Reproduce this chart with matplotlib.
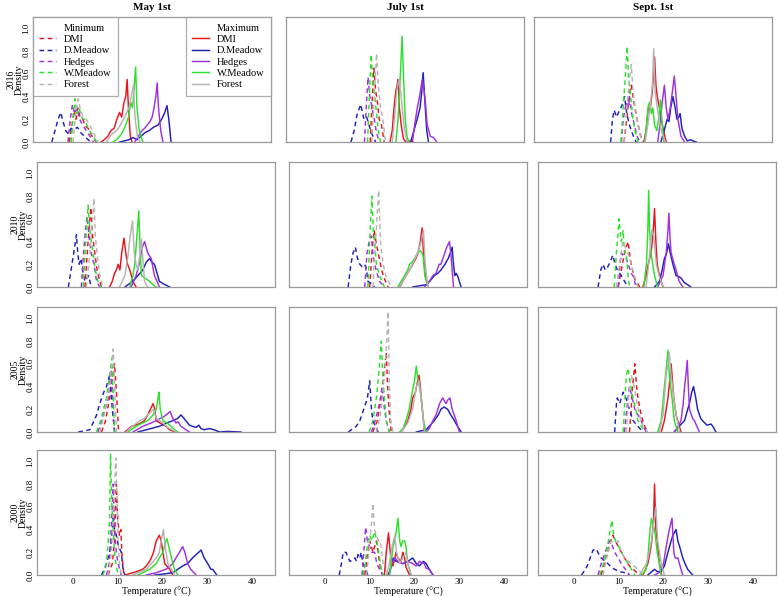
import matplotlib.pyplot as plt
from matplotlib.lines import Line2D

# Fuente tipo Times, como en la figura original
plt.rcParams["font.family"] = ["Liberation Serif", "DejaVu Serif"]

# ---- Datos ----#
sites = ["DMI", "D.Meadow", "Hedges", "W.Meadow", "Forest"]
years = ["2016", "2010", "2005", "2000"]
dates = ["May 1st", "July 1st", "Sept. 1st"]
colors = {"DMI": "#e8141e", "D.Meadow": "#2020b8", "Hedges": "#a030e0",
          "W.Meadow": "#2ee02e", "Forest": "#b4b4b4"}

# Curvas de densidad: (temperatura, densidad)
may_2016_min = {
    "DMI": [(-0.8, 0), (-0.2, 0.15), (0.3, 0.28), (0.7, 0.2), (1.1, 0.3), (1.6, 0.22), (2.2, 0.2), (2.8, 0.14), (3.4, 0.12), (4.0, 0.07), (4.6, 0.03), (5.2, 0)],
    "D.Meadow": [(-4.7, 0), (-4.0, 0.1), (-3.3, 0.2), (-2.7, 0.26), (-2.2, 0.18), (-1.6, 0.1), (-1.0, 0.07), (-0.4, 0.12), (0.3, 0.11), (1.0, 0.13), (1.8, 0.08), (2.6, 0.05), (3.4, 0.02), (4.1, 0)],
    "Hedges": [(-1.1, 0), (-0.6, 0.2), (-0.1, 0.33), (0.4, 0.25), (0.9, 0.3), (1.5, 0.2), (2.2, 0.15), (3.0, 0.1), (3.8, 0.05), (4.6, 0)],
    "W.Meadow": [(-0.4, 0), (0.1, 0.25), (0.5, 0.38), (0.9, 0.25), (1.4, 0.3), (1.9, 0.22), (2.5, 0.2), (3.1, 0.15), (3.7, 0.1), (4.4, 0.06), (5.3, 0)],
    "Forest": [(0.0, 0), (0.6, 0.25), (1.2, 0.38), (1.7, 0.28), (2.3, 0.22), (3.0, 0.2), (3.7, 0.15), (4.4, 0.1), (5.0, 0.05), (5.6, 0)],
}
may_2016_max = {
    "DMI": [(6.3, 0), (7.0, 0.02), (7.8, 0.05), (8.5, 0.1), (9.2, 0.12), (9.8, 0.2), (10.4, 0.26), (10.9, 0.22), (11.4, 0.35), (11.8, 0.4), (12.1, 0.55), (12.4, 0.3), (12.8, 0.05), (13.2, 0)],
    "D.Meadow": [(10.4, 0), (11.5, 0.01), (12.5, 0.02), (13.4, 0.04), (14.3, 0.02), (15.2, 0.05), (16.0, 0.08), (17.0, 0.1), (18.0, 0.13), (19.0, 0.15), (19.8, 0.2), (20.4, 0.25), (21.0, 0.32), (21.4, 0.2), (21.9, 0)],
    "Hedges": [(13.8, 0), (14.6, 0.05), (15.4, 0.1), (16.0, 0.12), (16.6, 0.15), (17.2, 0.18), (17.7, 0.22), (18.1, 0.3), (18.5, 0.4), (18.8, 0.52), (19.1, 0.3), (19.6, 0.1), (20.1, 0)],
    "W.Meadow": [(9.0, 0), (10.0, 0.03), (11.0, 0.08), (11.8, 0.15), (12.4, 0.22), (12.9, 0.35), (13.3, 0.3), (13.7, 0.5), (14.0, 0.66), (14.3, 0.3), (14.8, 0.1), (15.6, 0)],
    "Forest": [(7.5, 0), (8.3, 0.05), (9.0, 0.08), (9.8, 0.1), (10.6, 0.15), (11.3, 0.2), (11.9, 0.25), (12.5, 0.3), (13.0, 0.4), (13.5, 0.5), (13.9, 0.2), (14.4, 0.05), (15.0, 0)],
}
jul_2016_min = {
    "DMI": [(9.9, 0), (10.3, 0.35), (10.7, 0.65), (11.1, 0.45), (11.5, 0.35), (11.9, 0.2), (12.4, 0.15), (13.0, 0)],
    "D.Meadow": [(5.6, 0), (6.3, 0.1), (7.0, 0.25), (7.8, 0.33), (8.2, 0.25), (8.5, 0.2), (9.1, 0.22), (9.6, 0.15), (10.2, 0.08), (10.7, 0.03), (11.1, 0)],
    "Hedges": [(8.6, 0), (9.0, 0.3), (9.4, 0.57), (9.8, 0.4), (10.3, 0.3), (10.8, 0.2), (11.3, 0.08), (11.9, 0)],
    "W.Meadow": [(9.3, 0), (9.7, 0.4), (10.1, 0.77), (10.5, 0.5), (10.9, 0.4), (11.3, 0.25), (11.7, 0.1), (12.2, 0)],
    "Forest": [(10.2, 0), (10.8, 0.4), (11.3, 0.78), (11.7, 0.5), (12.2, 0.3), (12.7, 0.2), (13.3, 0)],
}
jul_2016_max = {
    "DMI": [(14.3, 0), (14.8, 0.1), (15.2, 0.3), (15.6, 0.45), (15.9, 0.5), (16.1, 0.55), (16.4, 0.3), (16.8, 0.15), (17.3, 0.03), (17.8, 0), (18.5, 0.01), (19.5, 0)],
    "D.Meadow": [(18.9, 0), (19.5, 0.08), (20.0, 0.15), (20.5, 0.22), (21.0, 0.3), (21.4, 0.45), (21.7, 0.61), (22.1, 0.35), (22.5, 0.1), (22.9, 0)],
    "Hedges": [(19.3, 0), (19.8, 0.15), (20.4, 0.3), (20.9, 0.4), (21.5, 0.55), (21.9, 0.45), (22.2, 0.35), (22.6, 0.15), (23.3, 0.05), (24.0, 0.04), (24.7, 0)],
    "W.Meadow": [(15.6, 0), (16.1, 0.2), (16.5, 0.5), (17.0, 0.93), (17.3, 0.6), (17.7, 0.2), (18.1, 0.05), (18.5, 0)],
    "Forest": [(14.8, 0), (15.3, 0.2), (15.8, 0.45), (16.3, 0.55), (16.8, 0.4), (17.4, 0.15), (18.1, 0)],
}
sep_2016_min = {
    "DMI": [(11.2, 0), (11.8, 0.2), (12.3, 0.4), (12.8, 0.5), (13.2, 0.4), (13.6, 0.3), (14.1, 0.2), (14.7, 0.08), (15.4, 0)],
    "D.Meadow": [(8.2, 0), (8.6, 0.2), (9.0, 0.28), (9.5, 0.22), (10.2, 0.28), (10.7, 0.32), (11.3, 0.4), (11.8, 0.25), (12.4, 0.15), (13.0, 0.08), (13.5, 0.03), (13.9, 0)],
    "Hedges": [(10.6, 0), (11.0, 0.2), (11.7, 0.35), (12.2, 0.3), (12.4, 0.4), (12.9, 0.25), (13.5, 0.15), (14.1, 0.05), (14.7, 0)],
    "W.Meadow": [(10.5, 0), (11.0, 0.3), (11.5, 0.6), (11.9, 0.84), (12.2, 0.55), (12.4, 0.5), (12.8, 0.35), (13.2, 0.2), (13.6, 0.1), (14.3, 0)],
    "Forest": [(11.2, 0), (11.8, 0.3), (12.4, 0.55), (12.8, 0.68), (13.2, 0.45), (13.7, 0.3), (14.3, 0.15), (14.9, 0.05), (15.4, 0)],
}
sep_2016_max = {
    "DMI": [(15.6, 0), (16.1, 0.1), (16.6, 0.3), (17.0, 0.28), (17.5, 0.45), (18.0, 0.75), (18.3, 0.5), (18.6, 0.4), (19.1, 0.3), (19.5, 0.2), (20.0, 0.1), (20.6, 0)],
    "D.Meadow": [(19.4, 0), (20.0, 0.08), (20.8, 0.2), (21.2, 0.18), (21.6, 0.3), (22.1, 0.4), (22.6, 0.3), (23.0, 0.2), (23.4, 0.22), (23.7, 0.25), (24.1, 0.12), (24.7, 0.05), (25.3, 0.01), (26.1, 0.02), (26.5, 0.01), (27.3, 0)],
    "Hedges": [(18.7, 0), (19.2, 0.15), (19.7, 0.35), (20.2, 0.5), (20.6, 0.3), (21.0, 0.2), (21.5, 0.3), (22.0, 0.45), (22.4, 0.58), (22.8, 0.4), (23.2, 0.2), (23.9, 0.05), (24.7, 0)],
    "W.Meadow": [(15.8, 0), (16.2, 0.15), (16.6, 0.32), (16.9, 0.35), (17.3, 0.25), (17.6, 0.3), (18.0, 0.15), (18.5, 0.1), (18.9, 0.2), (19.3, 0.37), (19.7, 0.15), (20.1, 0)],
    "Forest": [(15.9, 0), (16.5, 0.15), (17.0, 0.3), (17.5, 0.5), (17.8, 0.82), (18.1, 0.45), (18.6, 0.3), (19.2, 0.15), (19.9, 0.05), (20.4, 0)],
}
may_2010_min = {
    "DMI": [(2.7, 0), (3.3, 0.35), (4.0, 0.7), (4.4, 0.45), (4.9, 0.3), (5.4, 0.15), (6.0, 0.05), (6.4, 0)],
    "D.Meadow": [(-1.0, 0), (-0.4, 0.15), (0.2, 0.3), (0.8, 0.46), (1.1, 0.3), (1.4, 0.2), (1.8, 0.25), (2.3, 0.12), (2.7, 0.05), (3.2, 0.08), (3.5, 0.1), (4.1, 0)],
    "Hedges": [(1.9, 0), (2.4, 0.3), (2.8, 0.5), (3.2, 0.62), (3.6, 0.45), (4.1, 0.3), (4.7, 0.2), (5.3, 0.05), (6.0, 0)],
    "W.Meadow": [(2.3, 0), (2.8, 0.35), (3.4, 0.72), (3.8, 0.5), (4.5, 0.3), (5.0, 0.15), (5.6, 0.05), (6.4, 0)],
    "Forest": [(3.0, 0), (3.8, 0.3), (4.4, 0.6), (4.7, 0.78), (5.0, 0.45), (5.4, 0.3), (6.0, 0.1), (6.7, 0)],
}
may_2010_max = {
    "DMI": [(8.2, 0), (8.8, 0.05), (9.3, 0.12), (9.7, 0.15), (10.1, 0.2), (10.5, 0.15), (10.9, 0.3), (11.4, 0.43), (11.8, 0.3), (12.2, 0.2), (12.7, 0.15), (13.2, 0.08), (13.4, 0.05), (14.1, 0)],
    "D.Meadow": [(11.6, 0), (13.4, 0.05), (14.5, 0.1), (15.6, 0.15), (16.4, 0.22), (17.1, 0.25), (17.6, 0.22), (18.2, 0.2), (18.8, 0.12), (19.3, 0.05), (20.1, 0.03), (21.6, 0)],
    "Hedges": [(13.0, 0), (14.1, 0.1), (14.8, 0.2), (15.5, 0.35), (16.0, 0.4), (16.7, 0.3), (17.5, 0.25), (18.2, 0.1), (18.8, 0.05), (19.3, 0)],
    "W.Meadow": [(12.7, 0), (13.4, 0.1), (13.8, 0.2), (14.1, 0.35), (14.4, 0.5), (14.7, 0.67), (15.0, 0.35), (15.3, 0.1), (16.4, 0.07), (17.1, 0.05), (17.9, 0.02), (18.6, 0)],
    "Forest": [(10.4, 0), (11.0, 0.05), (11.6, 0.1), (12.2, 0.25), (12.8, 0.45), (13.3, 0.58), (13.7, 0.3), (14.1, 0.2), (14.5, 0.15), (15.0, 0.3), (15.3, 0.42), (15.7, 0.2), (16.0, 0.05), (16.7, 0)],
}
jul_2010_min = {
    "DMI": [(10.0, 0), (10.5, 0.3), (11.0, 0.5), (11.4, 0.4), (11.9, 0.3), (12.4, 0.2), (13.0, 0.1), (14.1, 0)],
    "D.Meadow": [(5.2, 0), (5.8, 0.2), (6.3, 0.3), (6.8, 0.35), (7.3, 0.25), (7.8, 0.2), (8.3, 0.18), (8.9, 0.2), (9.3, 0.15), (9.6, 0.05), (10.4, 0.03), (11.1, 0)],
    "Hedges": [(8.9, 0), (9.4, 0.3), (9.9, 0.4), (10.4, 0.45), (10.7, 0.3), (11.1, 0.2), (11.8, 0.1), (12.2, 0.05), (13.3, 0)],
    "W.Meadow": [(9.6, 0), (10.1, 0.5), (10.5, 0.8), (10.8, 0.5), (11.1, 0.4), (11.5, 0.2), (12.2, 0.1), (13.3, 0)],
    "Forest": [(10.7, 0), (11.3, 0.4), (12.0, 0.85), (12.4, 0.4), (13.0, 0.2), (13.6, 0.1), (14.8, 0)],
}
jul_2010_max = {
    "DMI": [(16.7, 0), (17.4, 0.05), (18.1, 0.1), (18.9, 0.15), (19.6, 0.2), (20.3, 0.25), (20.8, 0.3), (21.3, 0.4), (21.7, 0.52), (22.0, 0.3), (22.4, 0.1), (23.0, 0)],
    "D.Meadow": [(19.6, 0), (21.0, 0.01), (22.6, 0.02), (23.6, 0.06), (24.4, 0.1), (25.2, 0.12), (25.9, 0.15), (26.8, 0.2), (27.5, 0.25), (28.0, 0.3), (28.4, 0.35), (28.7, 0.2), (29.0, 0.1), (29.3, 0.12), (29.6, 0.1), (30.4, 0)],
    "Hedges": [(22.2, 0), (23.0, 0.03), (24.1, 0.1), (24.8, 0.12), (25.5, 0.2), (25.9, 0.2), (26.6, 0.28), (27.2, 0.35), (27.8, 0.4), (28.1, 0.3), (28.4, 0.15), (28.7, 0)],
    "W.Meadow": [(16.3, 0), (17.0, 0.05), (17.8, 0.1), (18.5, 0.15), (18.9, 0.2), (19.5, 0.22), (20.0, 0.25), (20.7, 0.3), (21.3, 0.32), (21.9, 0.28), (22.3, 0.1), (23.0, 0)],
    "Forest": [(16.7, 0), (17.8, 0.08), (18.9, 0.15), (19.8, 0.22), (20.7, 0.3), (21.1, 0.35), (21.5, 0.4), (22.0, 0.5), (22.4, 0.2), (23.0, 0)],
}
sep_2010_min = {
    "DMI": [(9.9, 0), (10.6, 0.15), (11.3, 0.3), (12.1, 0.4), (12.4, 0.3), (12.8, 0.2), (13.5, 0.08), (13.9, 0.05), (14.7, 0)],
    "D.Meadow": [(5.4, 0), (6.0, 0.15), (6.5, 0.2), (7.0, 0.15), (7.6, 0.18), (8.1, 0.22), (8.7, 0.28), (9.2, 0.2), (9.7, 0.15), (10.6, 0.1), (11.3, 0.05), (12.1, 0)],
    "Hedges": [(9.9, 0), (10.3, 0.2), (10.6, 0.3), (11.0, 0.28), (11.7, 0.25), (12.3, 0.18), (12.8, 0.12), (13.2, 0.1), (13.9, 0)],
    "W.Meadow": [(9.0, 0), (9.5, 0.3), (10.1, 0.6), (10.4, 0.45), (10.6, 0.4), (11.0, 0.5), (11.3, 0.3), (11.7, 0.3), (12.1, 0.1), (12.4, 0)],
    "Forest": [(9.5, 0), (10.2, 0.2), (10.9, 0.4), (11.5, 0.35), (12.1, 0.3), (12.8, 0.2), (13.5, 0.1), (14.3, 0)],
}
sep_2010_max = {
    "DMI": [(15.4, 0), (16.1, 0.1), (16.6, 0.2), (17.2, 0.3), (17.5, 0.4), (17.8, 0.55), (18.0, 0.69), (18.3, 0.4), (18.6, 0.2), (19.1, 0.1), (19.5, 0.05), (19.9, 0)],
    "D.Meadow": [(18.0, 0), (19.1, 0.05), (19.7, 0.15), (20.2, 0.25), (20.7, 0.3), (21.1, 0.38), (21.5, 0.3), (22.1, 0.2), (22.8, 0.1), (23.5, 0.09), (23.9, 0.08), (24.6, 0.04), (25.4, 0.02), (26.1, 0)],
    "Hedges": [(18.7, 0), (19.3, 0.05), (19.9, 0.1), (20.6, 0.3), (21.0, 0.5), (21.2, 0.65), (21.5, 0.4), (21.7, 0.3), (22.4, 0.2), (22.8, 0.15), (23.5, 0.05), (24.3, 0)],
    "W.Meadow": [(15.6, 0), (15.9, 0.1), (16.2, 0.2), (16.5, 0.5), (16.7, 0.85), (16.9, 0.5), (17.2, 0.3), (17.6, 0.2), (18.0, 0.1), (18.7, 0)],
    "Forest": [(16.1, 0), (16.7, 0.2), (17.4, 0.5), (17.8, 0.45), (18.4, 0.2), (19.0, 0.1), (19.9, 0)],
}
may_2005_min = {
    "DMI": [(6.4, 0), (7.3, 0.1), (8.2, 0.3), (8.8, 0.45), (9.3, 0.6), (9.8, 0.3), (10.2, 0)],
    "D.Meadow": [(1.2, 0), (2.5, 0.01), (3.8, 0.02), (4.5, 0.08), (5.3, 0.15), (6.0, 0.25), (6.9, 0.35), (7.5, 0.4), (8.2, 0.5), (8.8, 0.2), (9.3, 0)],
    "Hedges": [(5.6, 0), (6.5, 0.1), (7.9, 0.3), (8.6, 0.55), (9.0, 0.2), (9.3, 0)],
    "W.Meadow": [(5.3, 0), (6.2, 0.1), (7.5, 0.3), (8.2, 0.5), (8.7, 0.65), (9.1, 0.2), (9.3, 0)],
    "Forest": [(6.0, 0), (7.0, 0.15), (8.2, 0.4), (9.0, 0.73), (9.4, 0.3), (9.7, 0)],
}
may_2005_max = {
    "DMI": [(11.6, 0), (12.5, 0.03), (13.1, 0.05), (14.0, 0.06), (15.2, 0.08), (16.0, 0.1), (16.7, 0.15), (17.3, 0.2), (17.9, 0.25), (18.3, 0.2), (18.6, 0.1), (19.4, 0.08), (20.8, 0.05), (21.6, 0.02), (22.7, 0)],
    "D.Meadow": [(14.5, 0), (16.4, 0.02), (19.3, 0.05), (21.0, 0.08), (22.3, 0.1), (23.4, 0.12), (24.1, 0.15), (24.8, 0.12), (26.0, 0.06), (26.7, 0.05), (27.5, 0.04), (28.1, 0.06), (28.6, 0.03), (29.3, 0.02), (30.4, 0.03), (31.5, 0.02), (32.7, 0), (34.5, 0.005), (37.5, 0)],
    "Hedges": [(13.4, 0), (15.6, 0.05), (17.5, 0.08), (18.6, 0.1), (19.5, 0.12), (20.1, 0.13), (20.8, 0.15), (21.7, 0.18), (22.3, 0.12), (23.0, 0.08), (23.5, 0.09), (24.1, 0.05), (26.0, 0)],
    "W.Meadow": [(12.3, 0), (13.0, 0.02), (14.1, 0.05), (15.6, 0.08), (16.7, 0.1), (17.9, 0.15), (18.6, 0.2), (19.0, 0.3), (19.2, 0.35), (19.5, 0.2), (20.1, 0.1), (21.0, 0.08), (21.9, 0.05), (22.7, 0.02), (23.4, 0)],
    "Forest": [(11.9, 0), (13.0, 0.04), (14.9, 0.1), (16.0, 0.12), (16.7, 0.15), (17.5, 0.18), (18.0, 0.2), (18.6, 0.12), (19.3, 0.1), (20.1, 0.08), (21.2, 0.04), (23.0, 0)],
}
jul_2005_min = {
    "DMI": [(10.7, 0), (11.7, 0.1), (12.6, 0.3), (13.0, 0.45), (13.7, 0.7), (14.0, 0.4), (14.3, 0.2), (14.8, 0)],
    "D.Meadow": [(5.2, 0), (6.3, 0.03), (7.0, 0.05), (7.8, 0.1), (8.5, 0.18), (9.1, 0.25), (9.5, 0.3), (10.0, 0.45), (10.4, 0.2), (10.7, 0.1), (11.9, 0)],
    "Hedges": [(10.4, 0), (11.2, 0.1), (11.9, 0.2), (12.4, 0.3), (12.8, 0.4), (13.3, 0.2), (13.7, 0.1), (14.4, 0)],
    "W.Meadow": [(9.9, 0), (10.7, 0.1), (11.5, 0.3), (12.0, 0.5), (12.6, 0.8), (12.9, 0.5), (13.3, 0.3), (13.7, 0.1), (14.4, 0)],
    "Forest": [(11.5, 0), (12.4, 0.15), (13.3, 0.5), (13.8, 0.8), (14.1, 1.06), (14.4, 0.4), (14.7, 0.1), (15.2, 0)],
}
jul_2005_max = {
    "DMI": [(17.0, 0), (17.6, 0.03), (18.5, 0.1), (19.2, 0.2), (19.6, 0.3), (20.2, 0.35), (20.7, 0.45), (21.0, 0.5), (21.3, 0.4), (21.5, 0.3), (22.0, 0.1), (22.2, 0)],
    "D.Meadow": [(20.4, 0), (22.6, 0.02), (24.4, 0.1), (25.3, 0.15), (25.9, 0.2), (26.6, 0.22), (27.4, 0.2), (28.1, 0.15), (28.9, 0.1), (29.6, 0.05), (30.4, 0)],
    "Hedges": [(22.6, 0), (23.3, 0.03), (24.1, 0.1), (24.8, 0.15), (25.6, 0.25), (26.3, 0.3), (27.0, 0.25), (27.4, 0.28), (27.9, 0.3), (28.4, 0.2), (29.3, 0.1), (30.0, 0)],
    "W.Meadow": [(16.7, 0), (17.4, 0.03), (18.1, 0.1), (18.8, 0.2), (19.5, 0.35), (20.0, 0.45), (20.4, 0.58), (20.8, 0.45), (21.1, 0.4), (21.5, 0.3), (22.0, 0.1), (22.6, 0)],
    "Forest": [(17.0, 0), (18.5, 0.08), (19.6, 0.2), (20.4, 0.4), (21.0, 0.45), (21.5, 0.3), (22.2, 0)],
}
sep_2005_min = {
    "DMI": [(12.4, 0), (12.8, 0.2), (13.0, 0.35), (13.6, 0.6), (14.0, 0.4), (14.3, 0.3), (15.0, 0.15), (15.8, 0.05), (16.5, 0)],
    "D.Meadow": [(9.1, 0), (9.5, 0.25), (9.7, 0.3), (10.2, 0.25), (11.0, 0.35), (11.6, 0.3), (12.4, 0.2), (13.2, 0.1), (14.3, 0.05), (15.4, 0)],
    "Hedges": [(11.3, 0), (11.8, 0.2), (12.4, 0.4), (13.0, 0.3), (13.6, 0.2), (14.3, 0.15), (15.0, 0.1), (16.1, 0)],
    "W.Meadow": [(11.0, 0), (11.4, 0.3), (11.7, 0.5), (12.1, 0.56), (12.5, 0.45), (13.2, 0.3), (13.8, 0.2), (14.3, 0.1), (15.8, 0)],
    "Forest": [(11.7, 0), (12.2, 0.3), (12.8, 0.5), (13.2, 0.45), (13.9, 0.3), (14.6, 0.15), (15.4, 0.05), (16.5, 0)],
}
sep_2005_max = {
    "DMI": [(19.5, 0), (20.2, 0.1), (21.0, 0.3), (21.5, 0.5), (21.7, 0.6), (22.0, 0.45), (22.3, 0.3), (22.8, 0.15), (23.9, 0)],
    "D.Meadow": [(22.4, 0), (23.5, 0.05), (24.7, 0.1), (25.4, 0.2), (25.8, 0.25), (26.3, 0.35), (26.7, 0.4), (27.2, 0.3), (27.6, 0.2), (28.3, 0.12), (28.7, 0.1), (29.7, 0.06), (30.6, 0.07), (31.0, 0.05), (31.7, 0)],
    "Hedges": [(22.4, 0), (23.3, 0.05), (23.9, 0.1), (24.4, 0.25), (24.7, 0.4), (25.0, 0.5), (25.3, 0.63), (25.6, 0.35), (25.8, 0.2), (26.5, 0.12), (26.9, 0.1), (28.0, 0)],
    "W.Meadow": [(18.7, 0), (19.5, 0.1), (20.2, 0.4), (20.6, 0.55), (21.0, 0.72), (21.3, 0.5), (21.9, 0.3), (22.4, 0.1), (23.2, 0)],
    "Forest": [(19.1, 0), (19.9, 0.15), (20.6, 0.5), (21.0, 0.6), (21.3, 0.7), (21.7, 0.5), (22.3, 0.3), (22.8, 0.15), (23.6, 0)],
}
may_2000_min = {
    "DMI": [(7.9, 0), (8.8, 0.1), (9.3, 0.3), (9.7, 0.8), (10.0, 0.5), (10.4, 0.35), (10.7, 0.4), (11.0, 0.15), (11.4, 0)],
    "D.Meadow": [(6.4, 0), (7.0, 0.05), (7.5, 0.1), (8.2, 0.2), (8.6, 0.3), (9.0, 0.5), (9.3, 0.4), (9.7, 0.35), (10.2, 0.25), (10.8, 0.2), (11.2, 0.05), (11.6, 0)],
    "Hedges": [(7.5, 0), (8.1, 0.1), (8.4, 0.3), (8.8, 0.6), (9.0, 0.8), (9.3, 0.4), (9.7, 0.2), (10.1, 0.1), (10.8, 0)],
    "W.Meadow": [(6.7, 0), (7.2, 0.05), (7.5, 0.1), (7.9, 0.3), (8.2, 0.5), (8.4, 1.07), (8.7, 0.6), (9.0, 0.4), (9.3, 0.2), (9.6, 0.1), (10.1, 0)],
    "Forest": [(7.9, 0), (8.6, 0.2), (9.0, 0.5), (9.6, 1.03), (9.9, 0.6), (10.1, 0.3), (10.4, 0.1), (10.8, 0)],
}
may_2000_max = {
    "DMI": [(11.6, 0), (12.5, 0.01), (13.4, 0.02), (14.2, 0.03), (15.6, 0.05), (16.4, 0.08), (17.1, 0.12), (17.5, 0.15), (18.0, 0.2), (18.6, 0.3), (19.3, 0.35), (19.7, 0.3), (20.1, 0.2), (20.5, 0.1), (21.6, 0.05), (22.3, 0)],
    "D.Meadow": [(18.2, 0), (20.5, 0.01), (22.3, 0.02), (23.4, 0.05), (24.5, 0.08), (25.6, 0.1), (26.7, 0.15), (27.5, 0.18), (28.1, 0.2), (28.6, 0.22), (29.3, 0.15), (30.1, 0.1), (30.8, 0.05), (31.2, 0.05), (32.1, 0)],
    "Hedges": [(16.4, 0), (18.6, 0.02), (20.0, 0.04), (20.8, 0.05), (21.7, 0.08), (22.3, 0.1), (23.0, 0.15), (23.8, 0.2), (24.5, 0.25), (25.0, 0.2), (25.6, 0.1), (26.3, 0.05), (27.5, 0)],
    "W.Meadow": [(14.5, 0), (15.6, 0.02), (17.1, 0.05), (18.6, 0.1), (19.3, 0.15), (20.1, 0.2), (20.6, 0.28), (21.0, 0.32), (21.4, 0.25), (21.7, 0.2), (22.3, 0.1), (22.7, 0.05), (23.4, 0)],
    "Forest": [(13.4, 0), (14.5, 0.02), (16.4, 0.05), (17.5, 0.1), (18.6, 0.15), (19.3, 0.2), (19.7, 0.3), (20.2, 0.4), (20.6, 0.25), (21.2, 0.1), (22.0, 0.05), (22.7, 0)],
}
jul_2000_min = {
    "DMI": [(8.9, 0), (9.4, 0.15), (10.0, 0.3), (10.4, 0.25), (10.7, 0.2), (11.1, 0.25), (11.5, 0.3), (11.9, 0.2), (12.2, 0.1), (12.8, 0)],
    "D.Meadow": [(3.2, 0), (3.7, 0.1), (4.1, 0.2), (4.7, 0.2), (5.2, 0.15), (5.6, 0.12), (6.3, 0.13), (6.7, 0.15), (7.1, 0.12), (7.4, 0.18), (7.8, 0.15), (8.1, 0.2), (8.5, 0.1), (9.1, 0.05), (9.6, 0)],
    "Hedges": [(8.3, 0), (8.7, 0.2), (9.1, 0.42), (9.5, 0.3), (10.0, 0.25), (10.5, 0.2), (11.1, 0.2), (11.6, 0.1), (12.2, 0.05), (13.0, 0)],
    "W.Meadow": [(8.5, 0), (9.0, 0.1), (9.3, 0.2), (9.6, 0.3), (10.0, 0.35), (10.5, 0.3), (11.1, 0.38), (11.6, 0.3), (12.2, 0.15), (12.6, 0.05), (13.0, 0)],
    "Forest": [(9.3, 0), (9.7, 0.15), (10.0, 0.3), (10.4, 0.45), (10.7, 0.63), (11.1, 0.4), (11.5, 0.35), (12.0, 0.3), (12.4, 0.3), (13.0, 0.1), (13.7, 0)],
}
jul_2000_max = {
    "DMI": [(13.3, 0), (13.7, 0.2), (14.2, 0.37), (14.6, 0.2), (14.8, 0.1), (15.2, 0.08), (15.9, 0.2), (16.3, 0.15), (17.0, 0.12), (17.4, 0.2), (17.8, 0.15), (18.1, 0.07), (18.9, 0)],
    "D.Meadow": [(14.1, 0), (14.6, 0.05), (15.2, 0.15), (15.9, 0.12), (17.4, 0.1), (18.5, 0.12), (19.6, 0.15), (20.4, 0.1), (21.1, 0.08), (22.0, 0.12), (22.6, 0.1), (23.3, 0.05), (24.1, 0)],
    "Hedges": [(14.4, 0), (14.9, 0.1), (15.6, 0.15), (16.3, 0.12), (17.4, 0.1), (18.5, 0.12), (19.6, 0.1), (20.4, 0.08), (21.1, 0.12), (22.2, 0.1), (22.6, 0.06), (23.3, 0.05), (24.1, 0)],
    "W.Meadow": [(14.4, 0), (14.8, 0.1), (15.2, 0.25), (15.6, 0.3), (16.0, 0.4), (16.3, 0.5), (16.7, 0.3), (17.0, 0.25), (17.4, 0.3), (17.8, 0.3), (18.1, 0.25), (18.5, 0.1), (19.2, 0)],
    "Forest": [(13.7, 0), (14.4, 0.1), (15.0, 0.25), (15.6, 0.35), (16.0, 0.2), (16.7, 0.1), (17.4, 0.15), (18.1, 0.2), (18.5, 0.1), (19.3, 0)],
}
sep_2000_min = {
    "DMI": [(6.1, 0), (6.8, 0.1), (7.6, 0.2), (8.2, 0.3), (8.7, 0.35), (9.3, 0.3), (9.9, 0.25), (10.6, 0.2), (11.3, 0.15), (12.4, 0.08), (13.2, 0.05), (14.7, 0)],
    "D.Meadow": [(1.7, 0), (2.6, 0.05), (3.2, 0.1), (3.9, 0.18), (4.3, 0.22), (5.0, 0.23), (5.6, 0.18), (6.1, 0.15), (7.0, 0.12), (7.6, 0.1), (8.3, 0.07), (9.1, 0.05), (10.2, 0.03), (11.3, 0.02), (12.4, 0)],
    "Hedges": [(5.4, 0), (6.1, 0.1), (7.0, 0.2), (7.9, 0.3), (8.4, 0.28), (9.1, 0.2), (9.9, 0.15), (10.6, 0.1), (11.5, 0.05), (12.4, 0)],
    "W.Meadow": [(5.8, 0), (6.6, 0.1), (7.3, 0.2), (7.9, 0.35), (8.5, 0.48), (8.9, 0.35), (9.3, 0.3), (10.0, 0.25), (10.6, 0.2), (11.3, 0.15), (12.1, 0.1), (13.6, 0)],
    "Forest": [(6.5, 0), (7.3, 0.15), (8.3, 0.3), (9.1, 0.28), (9.9, 0.3), (10.6, 0.2), (11.3, 0.15), (12.8, 0.1), (14.3, 0.05), (15.4, 0)],
}
sep_2000_max = {
    "DMI": [(15.4, 0), (16.0, 0.05), (16.5, 0.1), (17.0, 0.2), (17.4, 0.3), (17.8, 0.5), (18.0, 0.8), (18.3, 0.4), (18.6, 0.3), (19.1, 0.1), (19.6, 0)],
    "D.Meadow": [(16.5, 0), (18.0, 0.05), (18.6, 0.03), (19.5, 0.03), (20.2, 0.08), (21.0, 0.2), (21.7, 0.3), (22.1, 0.35), (22.8, 0.4), (23.2, 0.3), (23.6, 0.25), (24.3, 0.15), (24.8, 0.1), (25.4, 0.05), (26.5, 0)],
    "Hedges": [(18.0, 0), (19.0, 0.02), (19.5, 0.05), (20.0, 0.1), (20.6, 0.25), (21.3, 0.4), (21.9, 0.5), (22.3, 0.2), (22.6, 0.15), (23.2, 0.15), (23.9, 0.05), (24.3, 0)],
    "W.Meadow": [(15.0, 0), (15.8, 0.03), (16.1, 0.05), (16.5, 0.15), (17.0, 0.4), (17.3, 0.5), (17.6, 0.45), (18.0, 0.4), (18.6, 0.2), (19.1, 0.1), (19.5, 0)],
    "Forest": [(14.7, 0), (15.4, 0.05), (16.2, 0.1), (16.8, 0.2), (17.3, 0.3), (17.8, 0.45), (18.3, 0.6), (18.7, 0.3), (19.1, 0.2), (19.5, 0.1), (20.2, 0)],
}

# Panel -> (mínimas, máximas)
panels = {
    ("2016", "May 1st"): (may_2016_min, may_2016_max),
    ("2016", "July 1st"): (jul_2016_min, jul_2016_max),
    ("2016", "Sept. 1st"): (sep_2016_min, sep_2016_max),
    ("2010", "May 1st"): (may_2010_min, may_2010_max),
    ("2010", "July 1st"): (jul_2010_min, jul_2010_max),
    ("2010", "Sept. 1st"): (sep_2010_min, sep_2010_max),
    ("2005", "May 1st"): (may_2005_min, may_2005_max),
    ("2005", "July 1st"): (jul_2005_min, jul_2005_max),
    ("2005", "Sept. 1st"): (sep_2005_min, sep_2005_max),
    ("2000", "May 1st"): (may_2000_min, may_2000_max),
    ("2000", "July 1st"): (jul_2000_min, jul_2000_max),
    ("2000", "Sept. 1st"): (sep_2000_min, sep_2000_max),
}

x_ticks = [0, 10, 20, 30, 40]
y_ticks = [0.0, 0.2, 0.4, 0.6, 0.8, 1.0]

# ---- Figura ----#
W, H = 778, 596
fig = plt.figure(figsize=(W / 100, H / 100), dpi=100)

# posiciones de los paneles en pixeles (la primera fila esta un poco corrida)
lefts = [[33, 286, 534], [37, 289, 538], [37, 289, 538], [37, 289, 538]]
tops = [17, 162, 307, 450]
pw, ph = 238, 125
xlims = [(-8.9, 44.2), (-8.0, 45.1), (-8.0, 45.1), (-8.0, 45.1)]
frame_color = "#999999"
dashed = (0, (3.2, 2.4))

for r, year in enumerate(years):
    for c, date in enumerate(dates):
        ax = fig.add_axes([lefts[r][c] / W, 1 - (tops[r] + ph) / H, pw / W, ph / H])
        mins, maxs = panels[(year, date)]
        for site in sites:
            t, d = zip(*mins[site])
            ax.plot(t, d, color=colors[site], lw=1.05, ls=dashed)
        for site in sites:
            t, d = zip(*maxs[site])
            ax.plot(t, d, color=colors[site], lw=1.05)

        ax.set_xlim(*xlims[r])
        ax.set_ylim(0, 1.1)
        for spine in ax.spines.values():
            spine.set_color(frame_color)
            spine.set_linewidth(0.9)
        ax.tick_params(length=0, labelsize=6.5, pad=2)

        ax.set_xticks(x_ticks)
        if r < len(years) - 1:
            ax.set_xticklabels([])
        else:
            ax.set_xlabel("Temperature (°C)", fontsize=7, labelpad=1)

        ax.set_yticks(y_ticks)
        if c == 0:
            ax.set_yticklabels([f"{v:.1f}" for v in y_ticks], rotation=90, va="center")
            ax.set_ylabel(year + "\nDensity", fontsize=7, labelpad=-1, linespacing=0.85)
        else:
            ax.set_yticklabels([])

        if r == 0:
            ax.set_title(date, fontsize=8, fontweight="bold", pad=5)

        # Leyendas solo en el primer panel
        if r == 0 and c == 0:
            blank = Line2D([], [], color="none")
            h_min = [blank] + [Line2D([], [], color=colors[s], lw=1.05, ls=dashed) for s in sites]
            h_max = [blank] + [Line2D([], [], color=colors[s], lw=1.05) for s in sites]
            opts = dict(fontsize=7.5, frameon=True, fancybox=False, borderaxespad=0,
                        handlelength=1.6, handletextpad=0.8, labelspacing=0.2,
                        borderpad=0.6)
            leg1 = ax.legend(h_min, ["Minimum"] + sites, loc="upper left",
                             bbox_to_anchor=(0, 1), **opts)
            leg1.get_frame().set_edgecolor(frame_color)
            leg1.get_frame().set_linewidth(0.9)
            ax.add_artist(leg1)
            leg2 = ax.legend(h_max, ["Maximum"] + sites, loc="upper right",
                             bbox_to_anchor=(1, 1), **opts)
            leg2.get_frame().set_edgecolor(frame_color)
            leg2.get_frame().set_linewidth(0.9)

fig.savefig("out.png", dpi=100)
